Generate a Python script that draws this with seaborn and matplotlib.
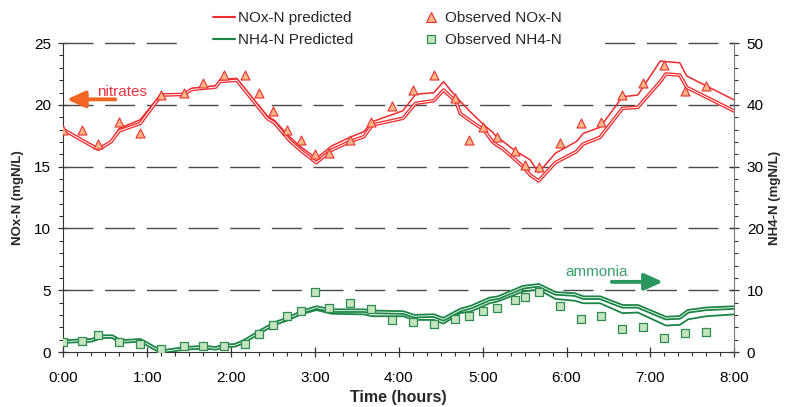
import numpy as np
import pandas as pd
import matplotlib
matplotlib.use('Agg')
import matplotlib.pyplot as plt
from matplotlib.ticker import MultipleLocator, FuncFormatter
from matplotlib.lines import Line2D
from matplotlib.patches import Rectangle
import seaborn as sns

sns.set_style('ticks')
plt.rcParams['font.family'] = ['Liberation Sans', 'DejaVu Sans']

# sampling times (minutes) and observed concentrations
obs_min = [0, 13, 25, 40, 55, 70, 86, 100, 115, 130, 140, 150, 160, 170, 180, 190, 205, 220,
           235, 250, 265, 280, 290, 300, 310, 323, 330, 340, 355, 370, 385, 400, 415, 430, 445, 460]
nox_obs = [18.0, 18.0, 16.8, 18.6, 17.7, 20.8, 21.0, 21.8, 22.4, 22.4, 21.0, 19.5, 18.0, 17.2,
           16.0, 16.1, 17.2, 18.6, 19.9, 21.2, 22.4, 20.6, 17.2, 18.2, 17.4, 16.3, 15.1, 15.0,
           16.9, 18.5, 18.6, 20.8, 21.8, 23.2, 21.1, 21.5]
nh4_obs = [1.7, 1.8, 2.7, 1.7, 1.3, 0.5, 0.9, 0.9, 0.9, 1.3, 2.9, 4.4, 5.9, 6.7, 9.8, 7.1, 7.9,
           6.9, 5.2, 4.8, 4.6, 5.4, 5.9, 6.7, 7.1, 8.5, 8.9, 9.7, 7.4, 5.4, 5.8, 3.8, 4.1, 2.3,
           3.1, 3.2]

# model output, NOx-N (two runs)
nox_pred_min = [0, 25, 34, 40, 55, 70, 86, 92, 109, 112, 124, 129, 146, 151, 162, 170, 181, 192,
                205, 215, 221, 243, 252, 265, 272, 281, 284, 291, 301, 307, 310, 314, 324, 329,
                334, 340, 352, 367, 372, 384, 400, 411, 427, 431, 441, 446, 480]
nox_pred_a = [18.0, 16.4, 17.0, 17.9, 18.5, 20.8, 20.85, 21.25, 21.45, 21.9, 22.0, 21.3, 18.9,
              18.55, 17.1, 16.3, 15.33, 16.35, 17.03, 17.43, 18.38, 18.92, 20.13, 20.34, 21.2,
              20.26, 19.3, 18.73, 17.97, 17.03, 16.75, 16.49, 15.5, 15.0, 14.33, 13.85, 15.33,
              16.22, 16.84, 17.38, 19.72, 19.81, 21.87, 22.5, 22.42, 21.42, 19.5]
nox_pred_b = [18.0, 16.5, 17.05, 18.1, 18.8, 20.9, 20.9, 21.35, 21.55, 22.05, 22.15, 21.45, 19.1,
              18.75, 17.4, 16.6, 15.68, 16.68, 17.38, 17.84, 18.64, 19.53, 20.86, 20.99, 21.88,
              20.66, 20.3, 19.45, 18.38, 17.8, 17.43, 17.1, 16.22, 15.9, 15.55, 14.52, 16.09,
              17.03, 17.7, 18.19, 20.66, 20.8, 23.55, 23.5, 23.41, 22.34, 20.4]

# model output, NH4-N (two runs)
nh4_pred_min = [0, 20, 28, 35, 41, 55, 70, 87, 101, 109, 115, 123, 130, 140, 151, 162, 170, 181,
                192, 215, 221, 243, 251, 265, 272, 284, 292, 305, 311, 329, 340, 352, 366, 372,
                384, 400, 411, 431, 441, 447, 460, 480]
nh4_pred_c = [1.7, 1.9, 2.5, 2.5, 1.7, 1.9, 0.05, 0.6, 0.8, 0.6, 1.0, 1.1, 1.8, 3.2, 4.6, 5.5,
              6.4, 7.2, 6.7, 6.7, 6.5, 6.4, 5.8, 5.9, 5.3, 6.8, 7.3, 8.6, 8.8, 10.5, 10.8, 9.5,
              9.3, 8.8, 8.8, 7.4, 7.4, 5.5, 5.6, 6.6, 7.0, 7.2]
nh4_pred_d = [1.7, 1.9, 2.5, 2.4, 1.7, 1.8, 0.05, 0.5, 0.7, 0.6, 1.0, 1.0, 1.7, 3.1, 4.4, 5.3,
              6.1, 6.8, 6.2, 6.1, 5.8, 5.8, 5.2, 5.2, 4.6, 6.3, 6.6, 7.9, 8.2, 9.8, 10.1, 8.6,
              8.3, 7.9, 7.9, 6.3, 6.4, 4.3, 4.4, 5.3, 5.8, 6.1]

RED = '#ee2b2e'
GREEN = '#1b8545'

obs = pd.DataFrame({'t': np.array(obs_min) / 60, 'nox': nox_obs, 'nh4': nh4_obs})
nox = pd.DataFrame({'t': np.array(nox_pred_min) / 60, 'a': nox_pred_a, 'b': nox_pred_b})
nh4 = pd.DataFrame({'t': np.array(nh4_pred_min) / 60, 'c': nh4_pred_c, 'd': nh4_pred_d})


def hollow_line(ax, df, col, color, lw_out, lw_in, z):
    # double line: wide coloured stroke with a thin white core
    sns.lineplot(data=df, x='t', y=col, ax=ax, color=color, lw=lw_out, zorder=z, sort=False)
    sns.lineplot(data=df, x='t', y=col, ax=ax, color='white', lw=lw_in, zorder=z + 0.1, sort=False)


fig, ax = plt.subplots(figsize=(7.87, 4.07), dpi=100)
fig.subplots_adjust(left=0.0805, right=0.933, bottom=0.135, top=0.894)
ax2 = ax.twinx()

# dashed horizontal grid
dash = (0, (21.6, 8.4))
for v in [5, 10, 15, 20, 25]:
    ax.axhline(v, color='#4a4a4a', lw=1.0, ls=dash, zorder=1, clip_on=False)

# NOx-N on the left axis
sns.lineplot(data=nox, x='t', y='b', ax=ax, color=RED, lw=1.1, zorder=3, sort=False)
hollow_line(ax, nox, 'a', RED, 2.6, 0.7, 3)
sns.scatterplot(data=obs, x='t', y='nox', ax=ax, marker='^', s=42, color='#f9b585',
                edgecolor='#e8322f', linewidth=0.8, zorder=5)

# NH4-N on the right axis
sns.lineplot(data=nh4, x='t', y='d', ax=ax2, color=GREEN, lw=1.3, zorder=3, sort=False)
hollow_line(ax2, nh4, 'c', GREEN, 3.2, 0.6, 3)
sns.scatterplot(data=obs, x='t', y='nh4', ax=ax2, marker='s', s=32, color='#c6e4c0',
                edgecolor='#2e8c4f', linewidth=0.9, zorder=5)

# axes limits and ticks
ax.set_xlim(0, 8)
ax.set_ylim(0, 25)
ax2.set_ylim(0, 50)
ax.xaxis.set_major_locator(MultipleLocator(1))
ax.xaxis.set_minor_locator(MultipleLocator(1 / 6))
ax.xaxis.set_major_formatter(FuncFormatter(lambda v, p: f"{int(round(v))}:00"))
ax.yaxis.set_major_locator(MultipleLocator(5))
ax.yaxis.set_minor_locator(MultipleLocator(1))
ax2.yaxis.set_major_locator(MultipleLocator(10))
ax2.yaxis.set_minor_locator(MultipleLocator(2))

for a in (ax, ax2):
    a.tick_params(which='major', direction='inout', length=7, width=0.9, color='#333333',
                  labelsize=11, labelcolor='black')
    a.tick_params(which='minor', direction='out', length=3.2, width=0.8, color='#333333')
    a.spines['top'].set_visible(False)
ax.tick_params(axis='y', which='major', pad=5.5)
ax2.tick_params(axis='y', which='major', pad=5.5)
ax.tick_params(axis='x', which='major', pad=10)
ax.spines['right'].set_visible(False)
ax2.spines['left'].set_visible(False)
ax2.spines['bottom'].set_visible(False)
ax.spines['left'].set_color('#333333')
ax.spines['bottom'].set_color('#333333')
ax2.spines['right'].set_color('#777777')

ax.set_xlabel('Time (hours)', fontsize=11.5, fontweight='bold', labelpad=4)
ax.set_ylabel('NOx-N (mgN/L)', fontsize=9.5, fontweight='bold', labelpad=7)
ax2.set_ylabel('NH4-N (mgN/L)', fontsize=9.5, fontweight='bold', labelpad=4)

# annotations
arrow_style = '-|>,head_length=1.1,head_width=0.5'
ax.text(0.70, 21.05, 'nitrates', color='#ee3440', fontsize=11, ha='center', va='center')
ax.annotate('', xy=(0.04, 20.45), xytext=(0.62, 20.45),
            arrowprops=dict(arrowstyle=arrow_style, color='#f26522',
                            lw=2.8, shrinkA=0, shrinkB=0))
ax.text(6.36, 6.5, 'ammonia', color='#3a9e6c', fontsize=11, ha='center', va='center')
ax.annotate('', xy=(7.15, 5.68), xytext=(6.54, 5.68),
            arrowprops=dict(arrowstyle=arrow_style, color='#2a9660',
                            lw=2.8, shrinkA=0, shrinkB=0))

# white block behind the legend hides the top grid line
fig.patches.append(Rectangle((0.226, 0.877), 0.54, 0.123, transform=fig.transFigure,
                             facecolor='white', edgecolor='none', zorder=3))

handles = [
    Line2D([], [], color=RED, lw=1.5),
    Line2D([], [], color=GREEN, lw=1.5),
    Line2D([], [], marker='^', ls='none', markersize=6.5, markerfacecolor='#f9b585',
           markeredgecolor='#e8322f', markeredgewidth=0.8),
    Line2D([], [], marker='s', ls='none', markersize=5.7, markerfacecolor='#c6e4c0',
           markeredgecolor='#2e8c4f', markeredgewidth=0.9),
]
labels = ['NOx-N predicted', 'NH4-N Predicted', 'Observed NOx-N', 'Observed NH4-N']
fig.legend(handles, labels, ncol=2, loc='center', bbox_to_anchor=(0.492, 0.928),
           frameon=False, fontsize=11, handlelength=1.45, handletextpad=0.15,
           columnspacing=4.4, labelspacing=0.5)

plt.savefig('out.png', dpi=100)
plt.close()
